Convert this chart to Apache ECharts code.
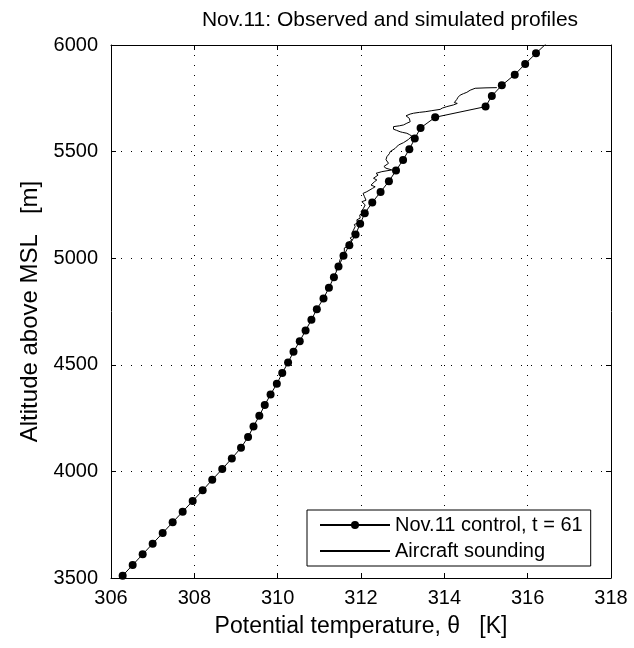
<!DOCTYPE html>
<html>
<head>
<meta charset="utf-8">
<script src="https://cdn.jsdelivr.net/npm/echarts@6/dist/echarts.min.js"></script>
<style>html,body{margin:0;padding:0;background:#fff;}#c{width:634px;height:648px;}</style>
</head>
<body>
<div id="c"></div>
<script>
var titleText = 'Nov.11: Observed and simulated profiles';
var xName = 'Potential temperature, \u03b8   [K]';
var yName = 'Altitude above MSL   [m]';
var modelName = 'Nov.11 control, t = 61';
var obsName = 'Aircraft sounding';

var xTicks = [306, 308, 310, 312, 314, 316, 318];
var yTicks = [3500, 4000, 4500, 5000, 5500, 6000];

var modelAlt = [3511,3561,3611,3661,3711,3761,3811,3861,3911,3961,4011,4061,4111,4161,4211,4261,4311,4361,4411,4461,4511,4561,4611,4661,4711,4761,4811,4861,4911,4961,5011,5061,5111,5161,5211,5261,5311,5361,5411,5461,5511,5561,5611,5661,5711,5761,5811,5861,5911,5961,6011];
var modelTheta = [306.28,306.52,306.76,307.00,307.24,307.48,307.72,307.96,308.20,308.43,308.67,308.90,309.12,309.29,309.42,309.56,309.69,309.83,309.98,310.11,310.25,310.38,310.53,310.67,310.81,310.94,311.10,311.23,311.35,311.46,311.58,311.72,311.87,311.98,312.09,312.27,312.47,312.67,312.84,313.01,313.16,313.29,313.43,313.78,314.99,315.14,315.38,315.69,315.94,316.20,316.47];

var obsAlt = [4940,4955,4968,4980,4995,5008,5020,5030,5038,5048,5055,5062,5072,5085,5095,5102,5109,5118,5125,5132,5140,5148,5158,5165,5171,5180,5188,5195,5203,5211,5218,5226,5234,5242,5250,5258,5265,5272,5281,5290,5297,5304,5312,5320,5328,5335,5343,5351,5358,5367,5375,5382,5390,5398,5406,5414,5422,5430,5437,5445,5453,5462,5470,5476,5490,5500,5507,5515,5524,5531,5542,5550,5557,5565,5573,5580,5586,5590,5593,5600,5605,5609,5613,5617,5621,5625,5629,5633,5640,5648,5656,5664,5668,5672,5676,5680,5684,5687,5692,5698,5704,5711,5719,5726,5730,5734,5745,5755,5765,5772,5778,5788,5797,5799,5800];
var obsTheta = [311.40,311.44,311.43,311.48,311.50,311.53,311.55,311.60,311.62,311.60,311.67,311.70,311.68,311.78,311.74,311.80,311.83,311.78,311.82,311.82,311.80,311.86,311.84,311.92,311.93,311.90,311.98,312.02,311.97,312.05,312.00,311.98,312.06,312.04,312.10,312.06,312.02,312.12,312.14,312.08,312.10,312.05,312.14,312.17,312.28,312.34,312.24,312.22,312.32,312.38,312.30,312.29,312.41,312.36,312.50,312.74,312.60,312.55,312.58,312.66,312.65,312.60,312.64,312.62,312.68,312.70,312.70,312.82,312.86,312.90,313.02,313.06,313.14,313.18,313.22,313.16,313.10,313.00,312.94,312.85,312.78,312.76,312.82,312.78,312.92,313.02,312.98,313.10,313.18,313.22,313.16,313.14,313.08,313.06,313.18,313.26,313.40,313.54,313.70,313.90,313.95,314.06,314.22,314.31,314.24,314.26,314.30,314.33,314.38,314.46,314.54,314.62,314.74,315.00,315.26];

var FONT = 'Liberation Sans, Arial, Helvetica, sans-serif';
function pairs(xs, ys){ return xs.map(function(x,i){ return [x, ys[i]]; }); }

var chart = echarts.init(document.getElementById('c'), null, {renderer:'canvas'});
var axisCommon = {
  type:'value',
  axisLine:{show:true, lineStyle:{color:'#000', width:1}},
  axisTick:{show:true, inside:true, length:5, lineStyle:{color:'#000'}}
};
chart.setOption({
  animation:false,
  backgroundColor:'#fff',
  textStyle:{fontFamily:FONT},
  graphic:[{type:'text', x:390, y:10, style:{text:titleText, fontSize:21, fontFamily:FONT, fill:'#000', align:'center', textAlign:'center'}}],
  grid:{left:111, right:23, top:45, bottom:70, containLabel:false},
  xAxis:[
    Object.assign({}, axisCommon, {position:'bottom', min:xTicks[0], max:xTicks[xTicks.length-1], interval:xTicks[1]-xTicks[0],
      axisLabel:{color:'#000', fontSize:20, fontFamily:FONT, margin:10, formatter:function(v){return String(v);}},
      splitLine:{show:true, lineStyle:{color:'#000', width:1, type:[1,9]}},
      name:xName, nameLocation:'middle', nameGap:37, nameTextStyle:{color:'#000', fontSize:23, fontFamily:FONT}}),
    Object.assign({}, axisCommon, {position:'top', min:xTicks[0], max:xTicks[xTicks.length-1], interval:xTicks[1]-xTicks[0],
      axisLabel:{show:false}, splitLine:{show:false}})
  ],
  yAxis:[
    Object.assign({}, axisCommon, {position:'left', min:yTicks[0], max:yTicks[yTicks.length-1], interval:yTicks[1]-yTicks[0],
      axisLabel:{color:'#000', fontSize:20, fontFamily:FONT, margin:13, formatter:function(v){return String(v);}},
      splitLine:{show:true, lineStyle:{color:'#000', width:1, type:[1,9]}},
      name:yName, nameLocation:'middle', nameGap:68, nameRotate:90, nameTextStyle:{color:'#000', fontSize:24, fontFamily:FONT}}),
    Object.assign({}, axisCommon, {position:'right', min:yTicks[0], max:yTicks[yTicks.length-1], interval:yTicks[1]-yTicks[0],
      axisLabel:{show:false}, splitLine:{show:false}})
  ],
  legend:{
    left:307, top:510, orient:'vertical', itemWidth:70, itemHeight:10, itemGap:6,
    padding:[5,8,5,12], borderColor:'#000', borderWidth:1, backgroundColor:'#fff',
    textStyle:{color:'#000', fontSize:20, fontFamily:FONT},
    data:[{name:modelName}, {name:obsName, itemStyle:{opacity:0}}]
  },
  series:[
    {name:modelName, type:'line', data:pairs(modelTheta, modelAlt), symbol:'circle', symbolSize:8, showSymbol:true,
      lineStyle:{color:'#000', width:1}, itemStyle:{color:'#000'}, clip:true, z:2},
    {name:obsName, type:'line', data:pairs(obsTheta, obsAlt), symbol:'none', showSymbol:false,
      lineStyle:{color:'#000', width:1}, itemStyle:{color:'#000'}, clip:true, z:3}
  ]
});
</script>
</body>
</html>
